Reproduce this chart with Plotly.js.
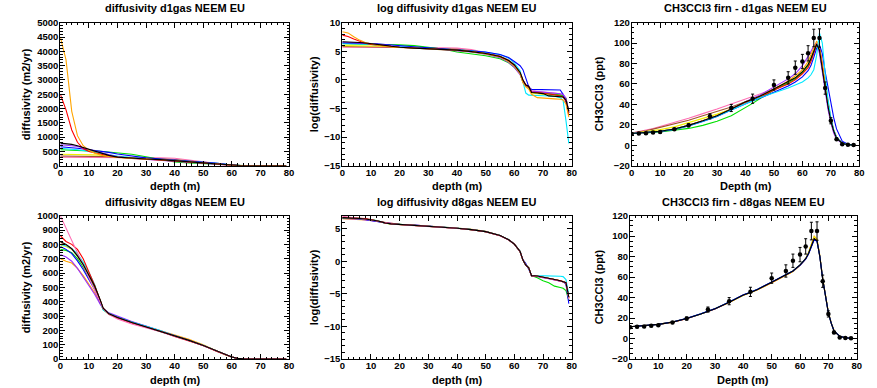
<!DOCTYPE html>
<html><head><meta charset="utf-8">
<script src="https://cdn.plot.ly/plotly-3.0.1.min.js"></script>
<style>html,body{margin:0;padding:0;background:#fff}</style>
</head><body><div id="chart" style="width:877px;height:388px"></div>
<script>
// ---------- depth grids ----------
const depthD = [0,2,4,6,8,10,12,14,15,17,20,25,30,35,40,45,50,55,58,60,62,63,64,65,66,68,70,72,74,76,77,78,79];
const depthC = [0,3,5,7.5,10,15,20,25,28,30,35,40,42.5,45,50,55,57.5,60,62,63,64,65,66,67,68,69,70,71,72,74,76,78];

// ---------- diffusivity d1gas (m2/yr) ----------
const d1_orange = [4500,3700,1900,1050,700,540,440,380,350,320,285,255,235,212,180,140,95,55,25,11,3,0.6,0.3,0.2,0.08,0.045,0.04,0.038,0.036,0.034,0.03,0.015,0.0015];
const d1_red    = [2500,1950,1250,820,600,500,450,400,380,340,300,265,238,213,185,145,100,60,30,13,3.5,0.9,0.4,0.3,0.12,0.11,0.1,0.09,0.075,0.06,0.05,0.025,0.002];
const d1_yellow = [400,400,398,395,390,385,378,365,355,340,310,275,245,215,180,140,98,58,28,12,3.2,0.8,0.35,0.28,0.1,0.09,0.08,0.07,0.06,0.055,0.05,0.03,0.003];
const d1_green  = [560,555,550,545,535,525,515,500,495,480,460,400,310,220,130,95,68,40,20,9,2.8,0.7,0.35,0.27,0.12,0.11,0.1,0.085,0.075,0.07,0.06,0.04,0.003];
const d1_cyan   = [610,600,585,560,530,495,460,425,405,375,335,285,250,220,195,165,125,85,45,20,5,0.8,0.1,0.07,0.067,0.065,0.063,0.06,0.058,0.045,0.028,0.0008,0.000015];
const d1_blue   = [660,650,630,610,585,560,540,515,500,465,410,330,275,235,200,170,130,85,50,25,12,6,1.2,0.3,0.19,0.185,0.18,0.178,0.175,0.17,0.08,0.02,0.003];
const d1_purple = [730,720,700,670,620,570,520,460,430,380,310,255,225,200,170,130,90,48,22,9,2.5,0.7,0.35,0.3,0.14,0.13,0.12,0.11,0.1,0.09,0.08,0.04,0.004];
const d1_pink   = [300,300,300,300,300,300,300,300,300,300,300,295,285,275,260,200,120,65,32,14,4,1.0,0.45,0.35,0.15,0.14,0.13,0.12,0.1,0.09,0.07,0.04,0.004];
const d1_brown  = [340,340,340,338,336,334,330,325,322,318,305,285,265,245,215,165,110,62,30,13,3.5,0.9,0.4,0.3,0.12,0.11,0.1,0.09,0.08,0.07,0.06,0.035,0.004];
const d1_black  = [790,775,745,700,640,580,520,450,420,360,300,257,233,211,181,141,100,60,30,13.5,3.7,1.0,0.41,0.33,0.11,0.10,0.091,0.061,0.058,0.055,0.05,0.03,0.0041];

// ---------- diffusivity d8gas (m2/yr) ----------
const d8_pink   = [1000,914,828,742,656,570,484,400,352,312,280,245,218,190,157,128,93,51,26,14,4.4,1.2,0.55,0.36,0.11,0.1,0.085,0.07,0.058,0.048,0.043,0.035,0.003];
const d8_red    = [860,820,800,765,700,610,515,405,352,312,285,250,222,193,158,128,94,51,27,14,4.4,1.2,0.55,0.37,0.11,0.1,0.088,0.072,0.06,0.05,0.044,0.036,0.0035];
const d8_yellow = [795,785,765,728,668,598,515,405,350,315,290,255,225,195,160,130,95,52,27,14,4.5,1.2,0.55,0.37,0.11,0.105,0.09,0.074,0.061,0.05,0.045,0.037,0.004];
const d8_cyan   = [800,790,770,735,675,605,520,400,342,318,292,258,230,198,162,131,96,53,28,14,4.6,1.2,0.56,0.37,0.115,0.11,0.11,0.11,0.105,0.1,0.095,0.06,0.006];
const d8_green  = [765,758,742,700,640,570,495,400,345,312,288,254,224,194,159,129,94,52,27,14,4.5,1.2,0.55,0.37,0.11,0.08,0.05,0.037,0.022,0.018,0.016,0.011,0.0025];
const d8_blue   = [785,765,735,685,625,555,485,390,350,318,293,258,227,196,160,130,95,52,27,14,4.5,1.3,0.7,0.3,0.11,0.1,0.088,0.072,0.06,0.05,0.044,0.03,0.0015];
const d8_purple = [730,712,682,632,572,512,452,380,352,322,298,262,230,198,161,131,95,52,27,14,4.5,1.2,0.55,0.37,0.1,0.095,0.085,0.07,0.058,0.048,0.043,0.033,0.0025];
const d8_orange = [700,682,670,632,582,522,462,390,352,316,290,258,228,199,165,137,99,53,27,14,4.5,1.2,0.55,0.37,0.11,0.105,0.09,0.074,0.061,0.05,0.045,0.037,0.004];
const d8_brown  = [815,797,768,718,658,588,508,408,355,315,290,255,225,195,160,130,95,52,27,14,4.5,1.2,0.55,0.37,0.11,0.105,0.09,0.074,0.061,0.05,0.045,0.037,0.004];
const d8_black  = [820,800,770,720,660,590,510,410,355,315,290,255,225,195,160,130,95,52,27,14,4.5,1.2,0.55,0.37,0.11,0.105,0.09,0.074,0.061,0.05,0.045,0.037,0.004];

// ---------- CH3CCl3 model (ppt), d1gas ----------
const c1_pink   = [12,13.5,15,16.5,18.5,22,26.5,31,33.5,35.5,40.5,45.5,48,50.5,55,61,65,71,78,84,91,98,95,77,56,38,24,14,7,2,0.6,0.3];
const c1_brown  = [12,13,14.2,15.8,17.5,21,24.5,29,31.5,33,37.5,42.5,45,48,55,61.5,65.5,71.5,78.5,85,92,99,94,76,55,38,24,14,7,2,0.6,0.3];
const c1_yellow = [11.5,12.5,13.3,14.3,15.3,18,22,26,28.5,30.5,35.5,42,45,48,55,62,66,72,79,85,92,100,94,76,56,38,24,14,7,2,0.6,0.3];
const c1_green  = [11.5,11.7,12,12.5,13,14.5,16.5,19.5,21.5,23.5,29,36.5,41,45.5,54,61,65,71,78,84,91,98,94,76,55,38,24,14,7,2,0.6,0.3];
const c1_cyan   = [11.5,12,12.3,13,13.7,15.8,19.2,23.5,26.5,28.5,34.5,41,43.5,46.5,51,56,59,62,66,69,74,88,110,100,70,45,27,15,8,2.2,0.6,0.3];
const c1_blue   = [11.5,11.9,12.2,12.8,13.5,15.5,19,23.3,26.3,28.3,34.5,41,43.5,46,52,58,62,67,73,78,86,95,98,90,72,56,40,27,16,4,1,0.3];
const c1_purple = [11.5,12,12.3,13,13.8,16,19.5,24,27,29,35.5,43,46,49,57,65,70,78,87,92,97,100,90,72,52,35,22,12,6,1.8,0.5,0.3];
const c1_red    = [11.5,12,12.3,13,13.8,16,19.5,24,27,29,35,42,44.5,47,54,60,64,70,76,82,90,99,97,80,58,40,26,15,8,2.2,0.6,0.3];
const c1_orange = [11.5,12,12.3,13,13.8,16,19.5,24,27,29,35.5,42.5,45,48,55,63,68,74,82,89,96,102,96,78,57,39,25,15,7.5,2.1,0.6,0.3];
const c1_black  = [11.5,12,12.3,13,13.8,16,19.5,24,27,29,35.5,42.5,45,48,55,62,66,72,79,85,92,99,93,75,55,38,24,14,7,2,0.6,0.3];

// ---------- CH3CCl3 model (ppt), d8gas ----------
const c8_orange = [11.5,12,12.3,13,13.8,16,19.5,24,27,29,35.3,42.2,44.7,47.6,54.5,61.5,65.5,71.5,78,84,91,100,97,81,59,41,26,15.5,7.8,2.3,0.7,0.3];
const c8_yellow = [11.5,12,12.3,13,13.8,16,19.5,24,27,29,35.3,42.2,44.7,47.6,54.5,61.5,65.5,71.5,78,84,91,99.5,96.5,80.5,58.5,40.5,25.5,15.2,7.6,2.2,0.7,0.3];
const c8_blue   = [11.5,12,12.3,13,13.8,16.1,19.7,24.2,27.2,29.2,35.7,42.7,45.2,48.2,55.2,62,66,71.5,77.5,82.5,89,96.5,95,80,58,40,25,15,7.5,2.2,0.7,0.3];
const c8_red    = [11.5,12,12.3,13,13.8,16,19.4,23.9,26.9,28.9,35.4,42.4,44.9,47.9,54.8,61.8,65.8,71.8,78,83,90,97.5,95,80,58,40,25,15,7.5,2.2,0.7,0.3];
const c8_cyan   = [11.5,12,12.3,13,13.8,16.1,19.6,24.1,27.1,29.1,35.6,42.6,45.1,48.1,55.1,62,66,72,78,83,90,97,95,80,58,40,25,15,7.5,2.2,0.7,0.3];
const c8_black  = [11.5,12,12.3,13,13.8,16,19.5,24,27,29,35.5,42.5,45,48,55,62,66,72,78,83,90,97.5,95.5,80,58,40,25,15,7.5,2.2,0.7,0.3];

// ---------- CH3CCl3 firn observations ----------
const obsDepth = [0,2.5,5,7.5,10,15,20,27.5,35,42.5,50,55,57.5,60,62,64,66,68,70,72,74,76,78];
const obsValue = [11,11.5,11.7,12.5,13,15.6,19.5,28.3,36.5,45.6,59,66,76,82,90,105,105,56,24,6,1,0.5,0.3];
const obsError = [1,1,1,1,1,1,1.5,2.5,3.5,4.5,5,6,6.5,7,7.5,8.6,9,6,3,1.2,0.5,0.3,0.3];

// ---------- titles ----------
const panelTitles = ["diffusivity d1gas NEEM EU","log diffusivity d1gas NEEM EU","CH3CCl3 firn - d1gas NEEM EU",
                     "diffusivity d8gas NEEM EU","log diffusivity d8gas NEEM EU","CH3CCl3 firn - d8gas NEEM EU"];
const xTitles = ["depth (m)","depth (m)","Depth (m)","depth (m)","depth (m)","Depth (m)"];
const yTitles = ["diffusivity (m2/yr)","log(diffusivity)","CH3CCl3 (ppt)","diffusivity (m2/yr)","log(diffusivity)","CH3CCl3 (ppt)"];

// ---------- build ----------
const COL = {orange:'#ffa500',red:'#ff0000',yellow:'#f0f000',green:'#00e000',cyan:'#00e8ff',blue:'#0000ff',
             purple:'#9b30ff',pink:'#ff6eb4',brown:'#a0522d',black:'#000000'};
const d1Series = [['pink',d1_pink],['brown',d1_brown],['yellow',d1_yellow],['green',d1_green],['cyan',d1_cyan],
                  ['blue',d1_blue],['purple',d1_purple],['red',d1_red],['orange',d1_orange],['black',d1_black]];
const d8Series = [['orange',d8_orange],['purple',d8_purple],['green',d8_green],['blue',d8_blue],['yellow',d8_yellow],
                  ['cyan',d8_cyan],['brown',d8_brown],['red',d8_red],['pink',d8_pink],['black',d8_black]];
const c1Series = [['pink',c1_pink],['brown',c1_brown],['yellow',c1_yellow],['green',c1_green],['purple',c1_purple],
                  ['red',c1_red],['orange',c1_orange],['blue',c1_blue],['cyan',c1_cyan],['black',c1_black]];
const c8Series = [['orange',c8_orange],['yellow',c8_yellow],['red',c8_red],['cyan',c8_cyan],['blue',c8_blue],['black',c8_black]];

const traces = [];
function addLines(series, xs, ax, transform){
  series.forEach(([c,v])=>{
    traces.push({type:'scatter',mode:'lines',x:xs,y:transform?v.map(transform):v,
      xaxis:'x'+ax,yaxis:'y'+ax,line:{color:COL[c],width:1.1},hoverinfo:'skip',showlegend:false});
  });
}
function addObs(ax){
  traces.push({type:'scatter',mode:'markers',x:obsDepth,y:obsValue,xaxis:'x'+ax,yaxis:'y'+ax,
    marker:{color:'#000',size:4.5,symbol:'circle'},
    error_y:{type:'data',array:obsError,visible:true,color:'#000',thickness:1,width:1.5},showlegend:false});
}
addLines(d1Series, depthD, 1);
addLines(d1Series, depthD, 2, Math.log);
addLines(c1Series, depthC, 3);
addObs(3);
addLines(d8Series, depthD, 4);
addLines(d8Series, depthD, 5, Math.log);
addLines(c8Series, depthC, 6);
addObs(6);

const W=877,H=388;
const fx = p=>p/W, fy = p=>1-p/H;
const boxes = [
  [60.3,289,22.7,165.7],[342.3,571.7,22.7,165.7],[631.7,859.3,22.7,165.7],
  [60.3,289,215.7,359],[342.3,571.7,215.7,359],[630,856.7,215.7,359]
];
const yRanges = [[0,5000],[-15,10],[-20,120],[0,1000],[-15,7],[-20,120]];
const yDt = [500,5,20,100,5,20];
const yMinor = [100,1,5,20,1,5];
const FONT = 'Liberation Sans, Arial, sans-serif';
const layout = {width:W,height:H,margin:{l:0,r:0,t:0,b:0},paper_bgcolor:'#fff',plot_bgcolor:'#fff',
  showlegend:false,annotations:[]};
const titleY = [8.3,201.5];
const xtY = [185.5,379.5];
const ytX = [[26,314,599],[26,314,599]];
boxes.forEach((b,i)=>{
  const n=i+1;
  const common = {showline:true,linecolor:'#000',linewidth:1,mirror:'allticks',ticks:'inside',ticklen:5,
    tickwidth:1,tickcolor:'#000',showgrid:false,zeroline:false,
    tickfont:{family:FONT,size:9.5,color:'#000',weight:'bold'},
    minor:{ticks:'inside',ticklen:2.5,tickwidth:1,tickcolor:'#000',showgrid:false}};
  layout['xaxis'+n] = Object.assign({},common,{domain:[fx(b[0]),fx(b[1])],range:[0,80],tick0:0,dtick:10,
    anchor:'y'+n,ticklabelstandoff:-2,minor:Object.assign({},common.minor,{dtick:2})});
  layout['yaxis'+n] = Object.assign({},common,{domain:[fy(b[3]),fy(b[2])],range:yRanges[i],tick0:0,dtick:yDt[i],
    anchor:'x'+n,ticklabelstandoff:-1,minor:Object.assign({},common.minor,{dtick:yMinor[i]})});
  const row = i<3?0:1;
  const cx = (b[0]+b[1])/2;
  layout.annotations.push({text:panelTitles[i],xref:'paper',yref:'paper',x:fx(cx),y:fy(titleY[row]),
    xanchor:'center',yanchor:'middle',showarrow:false,font:{family:FONT,size:11,color:'#000',weight:'bold'}});
  layout.annotations.push({text:xTitles[i],xref:'paper',yref:'paper',x:fx(cx),y:fy(xtY[row]),
    xanchor:'center',yanchor:'middle',showarrow:false,font:{family:FONT,size:11,color:'#000',weight:'bold'}});
  layout.annotations.push({text:yTitles[i],xref:'paper',yref:'paper',x:fx(ytX[row][i%3]),y:fy((b[2]+b[3])/2),
    xanchor:'center',yanchor:'middle',textangle:-90,showarrow:false,font:{family:FONT,size:11,color:'#000',weight:'bold'}});
});
Plotly.newPlot('chart',traces,layout,{staticPlot:true,displayModeBar:false});
</script>
</body></html>
